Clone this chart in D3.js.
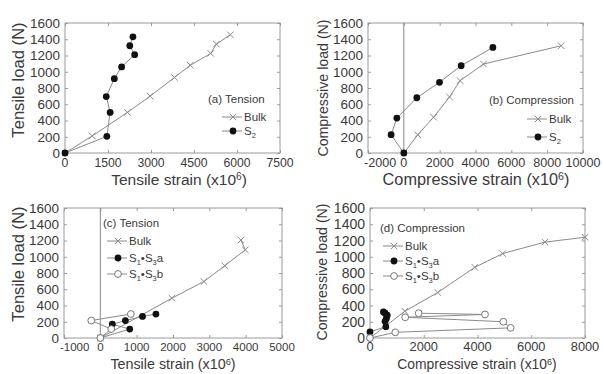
<!DOCTYPE html>
<html>
<head>
<meta charset="utf-8">
<script src="https://cdn.jsdelivr.net/npm/d3@7"></script>
<style>
  body { margin: 0; background: #fff; }
  svg { font-family: "Liberation Sans", Arial, sans-serif; }
</style>
</head>
<body>
<svg id="chart" width="603" height="374"></svg>
<script>
// tick labels
const loadTicks = [0, 200, 400, 600, 800, 1000, 1200, 1400, 1600];
const strainTicksA = [0, 1500, 3000, 4500, 6000, 7500];
const strainTicksB = [-2000, 0, 2000, 4000, 6000, 8000, 10000];
const strainTicksC = [-1000, 0, 1000, 2000, 3000, 4000, 5000];
const strainTicksD = [0, 2000, 4000, 6000, 8000];

// (a) tension : [strain, load]
const bulkA = [[0, 0], [950, 210], [2180, 500], [2970, 700], [3820, 930], [4370, 1080], [5080, 1225], [5280, 1340], [5770, 1455]];
const s2A = [[0, 0], [1460, 205], [1575, 500], [1440, 695], [1720, 915], [1975, 1060], [2430, 1210], [2260, 1320], [2370, 1430]];

// (b) compression
const bulkB = [[0, 0], [780, 225], [1660, 440], [2550, 690], [3140, 890], [4450, 1095], [8780, 1320]];
const s2B = [[0, 0], [-710, 225], [-390, 430], [725, 680], [1990, 870], [3200, 1075], [4970, 1300]];

// (c) tension
const bulkC = [[0, 0], [1970, 490], [2850, 695], [3425, 890], [3990, 1085], [3870, 1205]];
const s1s3aC = [[0, 0], [810, 110], [330, 170], [690, 215], [1160, 265], [1530, 295]];
const s1s3bC = [[0, 0], [300, 110], [-250, 215], [840, 295]];

// (d) compression
const bulkD = [[0, 0], [1300, 330], [2520, 560], [3900, 870], [4940, 1040], [6510, 1180], [8000, 1240]];
const s1s3aD = [[0, 0], [0, 75], [590, 140], [560, 205], [610, 240], [640, 280], [560, 305], [500, 320]];
const s1s3bD = [[0, 0], [940, 70], [5235, 125], [4960, 200], [1310, 255], [4280, 290], [1810, 305]];

const svg = d3.select("#chart");
const lineColor = "#8a8a8a";
const frameColor = "#9a9a9a";
const textColor = "#3a3a3a";

function drawMarker(g, type, cx, cy) {
  if (type === "x") {
    const s = 3.2;
    g.append("path")
      .attr("d", `M${cx - s},${cy - s}L${cx + s},${cy + s}M${cx - s},${cy + s}L${cx + s},${cy - s}`)
      .attr("stroke", lineColor).attr("stroke-width", 1);
  } else if (type === "dot") {
    g.append("circle").attr("cx", cx).attr("cy", cy).attr("r", 3.4).attr("fill", "#111");
  } else {
    g.append("circle").attr("cx", cx).attr("cy", cy).attr("r", 3.4)
      .attr("fill", "#fff").attr("stroke", "#777").attr("stroke-width", 1);
  }
}

function drawPanel(p) {
  const x = d3.scaleLinear().domain(p.domain).range([p.left, p.right]);
  const y = d3.scaleLinear().domain([0, 1600]).range([p.bottom, p.top]);
  const g = svg.append("g");

  // frame
  g.append("rect")
    .attr("x", p.left).attr("y", p.top)
    .attr("width", p.right - p.left).attr("height", p.bottom - p.top)
    .attr("fill", "none").attr("stroke", frameColor).attr("stroke-width", 1);

  // inward ticks on all sides
  const tick = (axis, tr) => g.append("g").attr("transform", tr)
    .call(axis.tickSize(-3).tickFormat(""))
    .call(a => a.select(".domain").remove())
    .call(a => a.selectAll("line").attr("stroke", frameColor));
  tick(d3.axisBottom(x).tickValues(p.ticks), `translate(0,${p.bottom})`);
  tick(d3.axisTop(x).tickValues(p.ticks), `translate(0,${p.top})`);
  tick(d3.axisLeft(y).tickValues(loadTicks), `translate(${p.left},0)`);
  tick(d3.axisRight(y).tickValues(loadTicks), `translate(${p.right},0)`);

  // tick labels (a negative first label sits to the right of its tick, as in the original)
  g.append("g").selectAll("text").data(p.ticks).join("text")
    .attr("x", d => d < 0 ? x(d) - 4 : x(d)).attr("y", p.xLabelY)
    .attr("text-anchor", d => d < 0 ? "start" : "middle")
    .attr("font-size", p.fs.xt).attr("fill", textColor)
    .text(d => d);
  g.append("g").selectAll("text").data(loadTicks).join("text")
    .attr("x", p.left - 5).attr("y", d => y(d)).attr("dy", "0.36em")
    .attr("text-anchor", "end").attr("font-size", p.fs.yt).attr("fill", textColor)
    .text(d => d);

  // zero line
  if (p.domain[0] < 0) {
    g.append("line")
      .attr("x1", x(0)).attr("x2", x(0)).attr("y1", p.top).attr("y2", p.bottom)
      .attr("stroke", lineColor).attr("stroke-width", 1);
  }

  // titles
  const xt = g.append("text")
    .attr("x", p.xTitle[0]).attr("y", p.xTitle[1])
    .attr("text-anchor", "middle").attr("font-size", p.fs.xTitle).attr("fill", textColor);
  xt.append("tspan").text(p.xText + " (x10");
  xt.append("tspan").attr("font-size", p.fs.xTitle * 0.65).attr("dy", "-0.45em").text("6");
  xt.append("tspan").attr("dy", "0.3em").text(")");
  g.append("text")
    .attr("transform", `translate(${p.yTitle[0]},${p.yTitle[1]}) rotate(-90)`)
    .attr("text-anchor", "middle").attr("dy", "0.36em")
    .attr("font-size", p.fs.yTitle).attr("fill", textColor)
    .text(p.yText);

  // series
  const line = d3.line().x(d => x(d[0])).y(d => y(d[1]));
  p.series.forEach(s => {
    g.append("path").datum(s.data).attr("d", line)
      .attr("fill", "none").attr("stroke", lineColor).attr("stroke-width", 1);
  });
  p.series.forEach(s => {
    s.data.forEach(d => drawMarker(g, s.marker, x(d[0]), y(d[1])));
  });

  // legend
  const lg = g.append("g").attr("font-size", 11.5).attr("fill", textColor);
  lg.append("text").attr("x", p.legend.x).attr("y", p.legend.titleY).attr("dy", "0.36em").text(p.legend.title);
  p.series.forEach((s, i) => {
    const ly = p.legend.rows[i];
    const lx = p.legend.lineX;
    lg.append("line").attr("x1", lx).attr("x2", lx + 20).attr("y1", ly).attr("y2", ly)
      .attr("stroke", lineColor).attr("stroke-width", 1);
    drawMarker(lg, s.marker, lx + 11, ly);
    const t = lg.append("text").attr("x", lx + 22).attr("y", ly + 4);
    s.label.forEach(part => {
      if (part.sub) {
        t.append("tspan").attr("font-size", 7.5).attr("y", ly + 7).text(part.t);
      } else {
        t.append("tspan").attr("y", ly + 4).text(part.t);
      }
    });
  });
}

const labS2 = [{ t: "S" }, { t: "2", sub: true }];
const labA = [{ t: "S" }, { t: "1", sub: true }, { t: "\u2022" }, { t: "S" }, { t: "3", sub: true }, { t: "a" }];
const labB = [{ t: "S" }, { t: "1", sub: true }, { t: "\u2022" }, { t: "S" }, { t: "3", sub: true }, { t: "b" }];

drawPanel({
  left: 65, right: 280, top: 23, bottom: 153, domain: [0, 7500], ticks: strainTicksA,
  xLabelY: 167, xTitle: [179, 185], yTitle: [18, 80],
  xText: "Tensile strain", yText: "Tensile load (N)",
  fs: { xt: 12.2, yt: 13.5, xTitle: 15.5, yTitle: 16.6 },
  legend: { x: 208, titleY: 99, lineX: 222, rows: [117, 131], title: "(a) Tension" },
  series: [
    { data: bulkA, marker: "x", label: [{ t: "Bulk" }] },
    { data: s2A, marker: "dot", label: labS2 }
  ]
});

drawPanel({
  left: 368, right: 583, top: 23, bottom: 153, domain: [-2000, 10000], ticks: strainTicksB,
  xLabelY: 167, xTitle: [476, 185], yTitle: [323, 88],
  xText: "Compressive strain", yText: "Compressive load (N)",
  fs: { xt: 12.6, yt: 13.5, xTitle: 16.3, yTitle: 14.2 },
  legend: { x: 489, titleY: 100, lineX: 527, rows: [119, 137], title: "(b) Compression" },
  series: [
    { data: bulkB, marker: "x", label: [{ t: "Bulk" }] },
    { data: s2B, marker: "dot", label: labS2 }
  ]
});

drawPanel({
  left: 64, right: 282, top: 208, bottom: 338, domain: [-1000, 5000], ticks: strainTicksC,
  xLabelY: 351, xTitle: [173, 369], yTitle: [18, 264],
  xText: "Tensile strain", yText: "Tensile load (N)",
  fs: { xt: 11.5, yt: 13.5, xTitle: 14.3, yTitle: 16.6 },
  legend: { x: 103, titleY: 223, lineX: 107, rows: [241, 258, 274], title: "(c) Tension" },
  series: [
    { data: bulkC, marker: "x", label: [{ t: "Bulk" }] },
    { data: s1s3aC, marker: "dot", label: labA },
    { data: s1s3bC, marker: "open", label: labB }
  ]
});

drawPanel({
  left: 370, right: 585, top: 208, bottom: 338, domain: [0, 8000], ticks: strainTicksD,
  xLabelY: 351, xTitle: [477, 369], yTitle: [322, 272],
  xText: "Compressive strain", yText: "Compressive load (N)",
  fs: { xt: 12.8, yt: 14, xTitle: 13.9, yTitle: 14.2 },
  legend: { x: 380, titleY: 228, lineX: 383, rows: [246, 261, 276], title: "(d) Compression" },
  series: [
    { data: bulkD, marker: "x", label: [{ t: "Bulk" }] },
    { data: s1s3aD, marker: "dot", label: labA },
    { data: s1s3bD, marker: "open", label: labB }
  ]
});
</script>
</body>
</html>
